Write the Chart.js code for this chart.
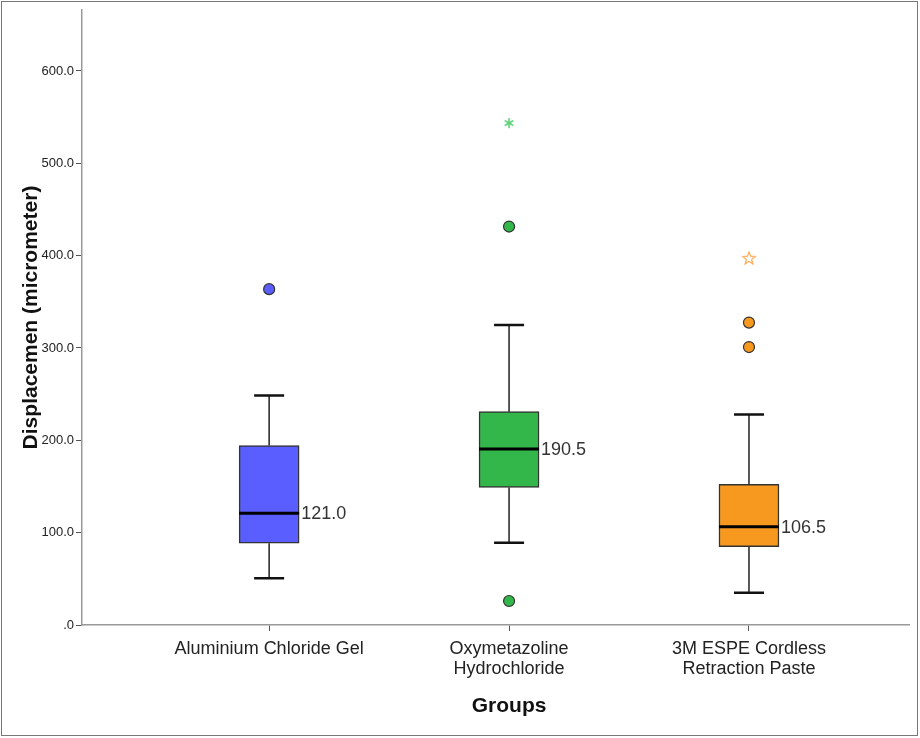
<!DOCTYPE html>
<html>
<head>
<meta charset="utf-8">
<script src="https://cdn.jsdelivr.net/npm/chart.js@4.4.0/dist/chart.umd.min.js"></script>
<style>
    html, body { margin: 0; padding: 0; background: #fff; }
    #frame { position: absolute; left: 1px; top: 1px; width: 915px; height: 733px; border: 1px solid #777; }
    #wrap { position: absolute; left: 0; top: 0; width: 920px; height: 738px; }
</style>
</head>
<body>
<div id="frame"></div>
<div id="wrap"><canvas id="boxChart" width="920" height="738"></canvas></div>
<script>
const categories = ['Aluminium Chloride Gel', ['Oxymetazoline', 'Hydrochloride'], ['3M ESPE Cordless', 'Retraction Paste']];
const q1 = [88.5, 149.0, 84.8];
const q3 = [194.3, 231.0, 152.4];
const medians = [121.0, 190.5, 106.5];
const whiskerLow = [50.6, 89.0, 35.0];
const whiskerHigh = [248.4, 325.0, 228.0];
const outliers = [[363.7], [431.5, 26.0], [327.5, 301.0]];
const extremes = [[], [543.5], [397.3]];
const yTickValues = [0, 100, 200, 300, 400, 500, 600];

const boxColors = ['#5a5eff', '#33b74b', '#f7991f'];
const starColors = ['#7a7eff', '#5fd27a', '#ffad5c'];

const positions = categories.map((c, i) => i + 1);

// small marker images for the extreme values: asterisk and open star
function asteriskMarker(color) {
    const c = document.createElement('canvas');
    c.width = 14; c.height = 14;
    const g = c.getContext('2d');
    g.strokeStyle = color;
    g.lineWidth = 1.6;
    g.beginPath();
    for (let k = 0; k < 3; k++) {
        const a = Math.PI / 2 + k * Math.PI / 3;
        g.moveTo(7 + 5 * Math.cos(a), 7 - 5 * Math.sin(a));
        g.lineTo(7 - 5 * Math.cos(a), 7 + 5 * Math.sin(a));
    }
    g.stroke();
    return c;
}

function starMarker(color) {
    const c = document.createElement('canvas');
    c.width = 16; c.height = 16;
    const g = c.getContext('2d');
    g.strokeStyle = color;
    g.lineWidth = 1.3;
    g.beginPath();
    for (let k = 0; k < 10; k++) {
        const r = k % 2 === 0 ? 6.5 : 2.8;
        const a = -Math.PI / 2 + k * Math.PI / 5;
        const px = 8 + r * Math.cos(a), py = 8.5 + r * Math.sin(a);
        if (k === 0) g.moveTo(px, py); else g.lineTo(px, py);
    }
    g.closePath();
    g.stroke();
    return c;
}

const extremeMarkers = [asteriskMarker(starColors[0]), asteriskMarker(starColors[1]), starMarker(starColors[2])];

// whiskers, caps, medians and median labels drawn through the scales
const boxExtras = {
    id: 'boxExtras',
    afterDatasetsDraw(chart) {
        const { ctx, scales: { x, y } } = chart;
        ctx.save();
        positions.forEach((p, i) => {
            const cx = x.getPixelForValue(p);
            const yq1 = y.getPixelForValue(q1[i]);
            const yq3 = y.getPixelForValue(q3[i]);
            const ylo = y.getPixelForValue(whiskerLow[i]);
            const yhi = y.getPixelForValue(whiskerHigh[i]);
            const ymed = y.getPixelForValue(medians[i]);

            ctx.strokeStyle = '#222';
            ctx.lineWidth = 1.5;
            ctx.beginPath();
            ctx.moveTo(cx, yq3); ctx.lineTo(cx, yhi);
            ctx.moveTo(cx, yq1); ctx.lineTo(cx, ylo);
            ctx.stroke();

            ctx.strokeStyle = '#111';
            ctx.lineWidth = 2.5;
            ctx.beginPath();
            ctx.moveTo(cx - 15, yhi); ctx.lineTo(cx + 15, yhi);
            ctx.moveTo(cx - 15, ylo); ctx.lineTo(cx + 15, ylo);
            ctx.stroke();

            ctx.strokeStyle = '#000';
            ctx.lineWidth = 3;
            ctx.beginPath();
            ctx.moveTo(cx - 30, ymed); ctx.lineTo(cx + 30, ymed);
            ctx.stroke();

            ctx.fillStyle = '#333';
            ctx.font = '18px "Liberation Sans", Arial, sans-serif';
            ctx.textAlign = 'left';
            ctx.textBaseline = 'middle';
            ctx.fillText(medians[i].toFixed(1), cx + 32, ymed + 1);
        });

        // x axis title centred on the middle group
        ctx.fillStyle = '#111';
        ctx.font = 'bold 21px "Liberation Sans", Arial, sans-serif';
        ctx.textAlign = 'center';
        ctx.textBaseline = 'middle';
        ctx.fillText('Groups', x.getPixelForValue(2), 706);
        ctx.restore();
    }
};

const outlierPoints = [];
const extremePoints = [];
const outlierColors = [];
const extremeStyles = [];
outliers.forEach((list, i) => list.forEach(v => { outlierPoints.push({ x: positions[i], y: v }); outlierColors.push(boxColors[i]); }));
extremes.forEach((list, i) => list.forEach(v => { extremePoints.push({ x: positions[i], y: v }); extremeStyles.push(extremeMarkers[i]); }));

new Chart(document.getElementById('boxChart').getContext('2d'), {
    type: 'bar',
    data: {
        datasets: [
            {
                label: 'Box',
                data: positions.map((p, i) => ({ x: p, y: [q1[i], q3[i]] })),
                backgroundColor: boxColors,
                borderColor: '#333',
                borderWidth: 1.5,
                borderSkipped: false,
                barThickness: 60
            },
            {
                type: 'scatter',
                label: 'Outliers',
                data: outlierPoints,
                backgroundColor: outlierColors,
                borderColor: '#333',
                borderWidth: 1.2,
                pointRadius: 5.5
            },
            {
                type: 'scatter',
                label: 'Extremes',
                data: extremePoints,
                pointStyle: extremeStyles,
                pointRadius: 6
            }
        ]
    },
    options: {
        responsive: false,
        animation: false,
        layout: { padding: { top: 10, right: 11, left: 0, bottom: 0 } },
        plugins: {
            legend: { display: false },
            tooltip: { enabled: false }
        },
        scales: {
            x: {
                type: 'linear',
                offset: false,
                min: 0.22,
                max: 3.667,
                afterBuildTicks: scale => { scale.ticks = positions.map(v => ({ value: v })); },
                afterFit: scale => { scale.height = 113; },
                grid: { offset: false, drawOnChartArea: false, drawTicks: true, tickLength: 6, color: '#555' },
                border: { color: '#999', width: 1.5 },
                ticks: {
                    autoSkip: false,
                    maxRotation: 0,
                    padding: 8,
                    color: '#222',
                    font: { family: '"Liberation Sans", Arial, sans-serif', size: 18, lineHeight: 1.1 },
                    callback: v => categories[v - 1]
                }
            },
            y: {
                min: 0,
                max: 666,
                afterBuildTicks: scale => { scale.ticks = yTickValues.map(v => ({ value: v })); },
                afterFit: scale => { scale.width = 82; },
                grid: { drawOnChartArea: false, drawTicks: true, tickLength: 6, color: '#555' },
                border: { color: '#999', width: 1.5 },
                title: {
                    display: true,
                    text: 'Displacemen (micrometer)',
                    color: '#111',
                    font: { family: '"Liberation Sans", Arial, sans-serif', size: 21, weight: 'bold' },
                    padding: { top: 19, bottom: 0 }
                },
                ticks: {
                    padding: 2,
                    color: '#222',
                    font: { family: '"Liberation Sans", Arial, sans-serif', size: 13 },
                    callback: v => v === 0 ? '.0' : v.toFixed(1)
                }
            }
        }
    },
    plugins: [boxExtras]
});
</script>
</body>
</html>
